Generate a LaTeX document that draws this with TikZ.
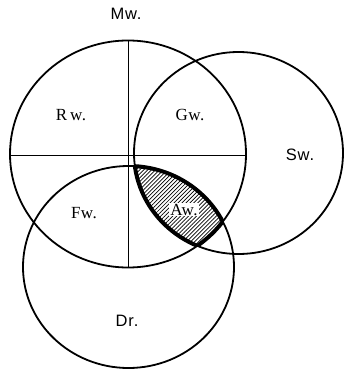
\documentclass[tikz,border=0pt]{standalone}
\usepackage{fontspec}
\setmainfont{Liberation Serif}
\newfontfamily\labsans[LetterSpace=5]{Liberation Sans}
\newfontfamily\labserif[LetterSpace=3]{Liberation Serif}
\usetikzlibrary{patterns.meta}
\begin{document}
\begin{tikzpicture}[x=1pt,y=-1pt,
  ring/.style={line width=1.8pt},
  crossline/.style={line width=0.9pt},
  rim/.style={line width=4pt},
  sanslab/.style={font=\labsans\fontsize{16.5}{18}\selectfont, anchor=base, inner sep=0pt},
  seriflab/.style={font=\labserif\fontsize{17}{19}\selectfont, anchor=base, inner sep=0pt}]
\useasboundingbox (0,0) rectangle (344,369);
\coordinate (cm) at (128,154);
\coordinate (cs) at (238.5,153);
\coordinate (cd) at (128.5,267);
\def\Mshape{(cm) ellipse [x radius=118pt, y radius=113.5pt]}
\def\Sshape{(cs) ellipse [x radius=104.5pt, y radius=101pt]}
\def\Dshape{(cd) ellipse [x radius=105.5pt, y radius=101pt]}
% hatched triple intersection
\begin{scope}
  \clip \Mshape; \clip \Sshape;
  \fill[pattern={Lines[angle=45,distance=2.8pt,line width=0.7pt]}] \Dshape;
  \draw[rim] \Dshape;
\end{scope}
\begin{scope}
  \clip \Mshape; \clip \Dshape;
  \draw[rim] \Sshape;
\end{scope}
\begin{scope}
  \clip \Sshape; \clip \Dshape;
  \draw[rim] \Mshape;
\end{scope}
% circles
\draw[ring] \Mshape;
\draw[ring] \Sshape;
\draw[ring] \Dshape;
% cross
\coordinate (mleft) at (10,155);
\coordinate (mright) at (246,155);
\coordinate (mtop) at (128,40.5);
\coordinate (mbot) at (128,267.5);
\draw[crossline] (mleft) -- (mright);
\draw[crossline] (mtop) -- (mbot);
% labels
\node[sanslab] (mw) at (126,20) {Mw.};
\node[seriflab] (rw) at (71,120) {R\,w.};
\node[seriflab] (gw) at (190,120) {Gw.};
\node[sanslab] (sw) at (300,160) {Sw.};
\node[seriflab] (fw) at (84,218) {Fw.};
\node[seriflab, fill=white, inner sep=1pt] (aw) at (184,215) {Aw.};
\node[sanslab] (dr) at (127,326) {Dr.};
\end{tikzpicture}
\end{document}
